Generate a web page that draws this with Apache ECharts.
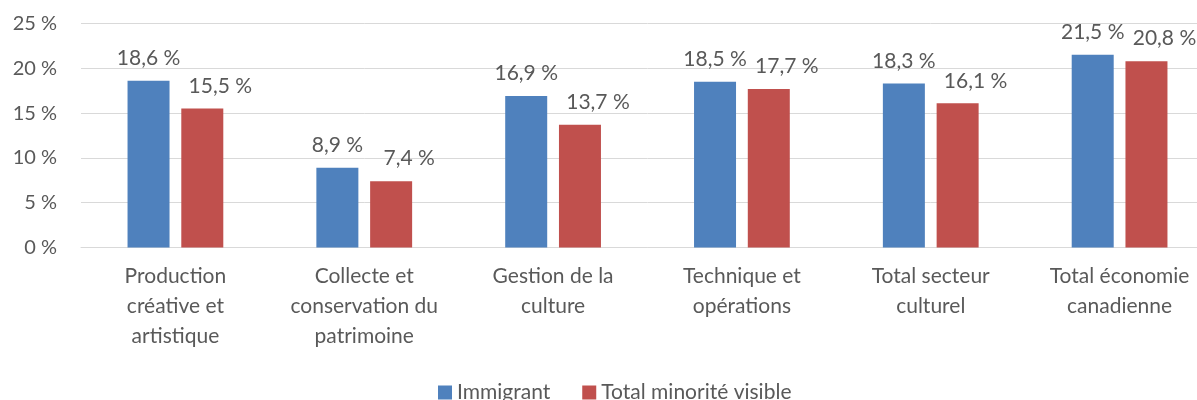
<!DOCTYPE html>
<html>
<head>
<meta charset="utf-8">
<script src="https://cdn.jsdelivr.net/npm/echarts@6/dist/echarts.min.js"></script>
<style>
  html, body { margin: 0; padding: 0; background: #fff; overflow: hidden; }
  #chart { width: 1214px; height: 400px; }
</style>
</head>
<body>
<div id="chart"></div>
<script>
const categories = [
  'Production\ncréative et\nartistique',
  'Collecte et\nconservation du\npatrimoine',
  'Gestion de la\nculture',
  'Technique et\nopérations',
  'Total secteur\nculturel',
  'Total économie\ncanadienne'
]
const immigrant = [18.6, 8.9, 16.9, 18.5, 18.3, 21.5]
const minorite = [15.5, 7.4, 13.7, 17.7, 16.1, 20.8]
const seriesNames = ['Immigrant', 'Total minorité visible']

const font = 'Lato, "Noto Sans", sans-serif'
const textColor = '#595959'
const pct = v => v.toFixed(1).replace('.', ',') + ' %'

// the plot runs past the right edge of the window, as in the reference
const myEcharts = echarts.init(document.getElementById('chart'))
myEcharts.setOption({
  animation: false,
  textStyle: { fontFamily: font },
  grid: { left: 81, width: 1133, top: 23.5, height: 224 },
  legend: {
    left: 433,
    top: 377,
    itemWidth: 14,
    itemHeight: 14,
    itemGap: 32,
    icon: 'rect',
    textStyle: { fontSize: 21, color: textColor, fontFamily: font },
    data: seriesNames
  },
  xAxis: {
    type: 'category',
    data: categories,
    axisLine: { lineStyle: { color: '#D9D9D9', width: 1 } },
    axisTick: { show: false },
    axisLabel: {
      interval: 0,
      fontSize: 21,
      lineHeight: 30,
      color: textColor,
      margin: 14,
      fontFamily: font
    }
  },
  yAxis: {
    type: 'value',
    min: 0,
    max: 25,
    interval: 5,
    axisLine: { show: false },
    axisTick: { show: false },
    splitLine: { lineStyle: { color: '#D9D9D9', width: 1 } },
    axisLabel: {
      fontSize: 20,
      color: textColor,
      margin: 24,
      fontFamily: font,
      formatter: v => v + ' %'
    }
  },
  series: [
    {
      name: seriesNames[0],
      type: 'bar',
      data: immigrant,
      barWidth: 42,
      barGap: '28%',
      itemStyle: { color: '#4F81BD' },
      label: {
        show: true,
        position: 'top',
        distance: 12,
        fontSize: 21,
        color: textColor,
        fontFamily: font,
        formatter: p => pct(p.value)
      }
    },
    {
      name: seriesNames[1],
      type: 'bar',
      data: minorite,
      barWidth: 42,
      itemStyle: { color: '#C0504D' },
      label: {
        show: true,
        position: 'top',
        distance: 12,
        offset: [18, 0],
        fontSize: 21,
        color: textColor,
        fontFamily: font,
        formatter: p => pct(p.value)
      }
    }
  ]
})
</script>
</body>
</html>
